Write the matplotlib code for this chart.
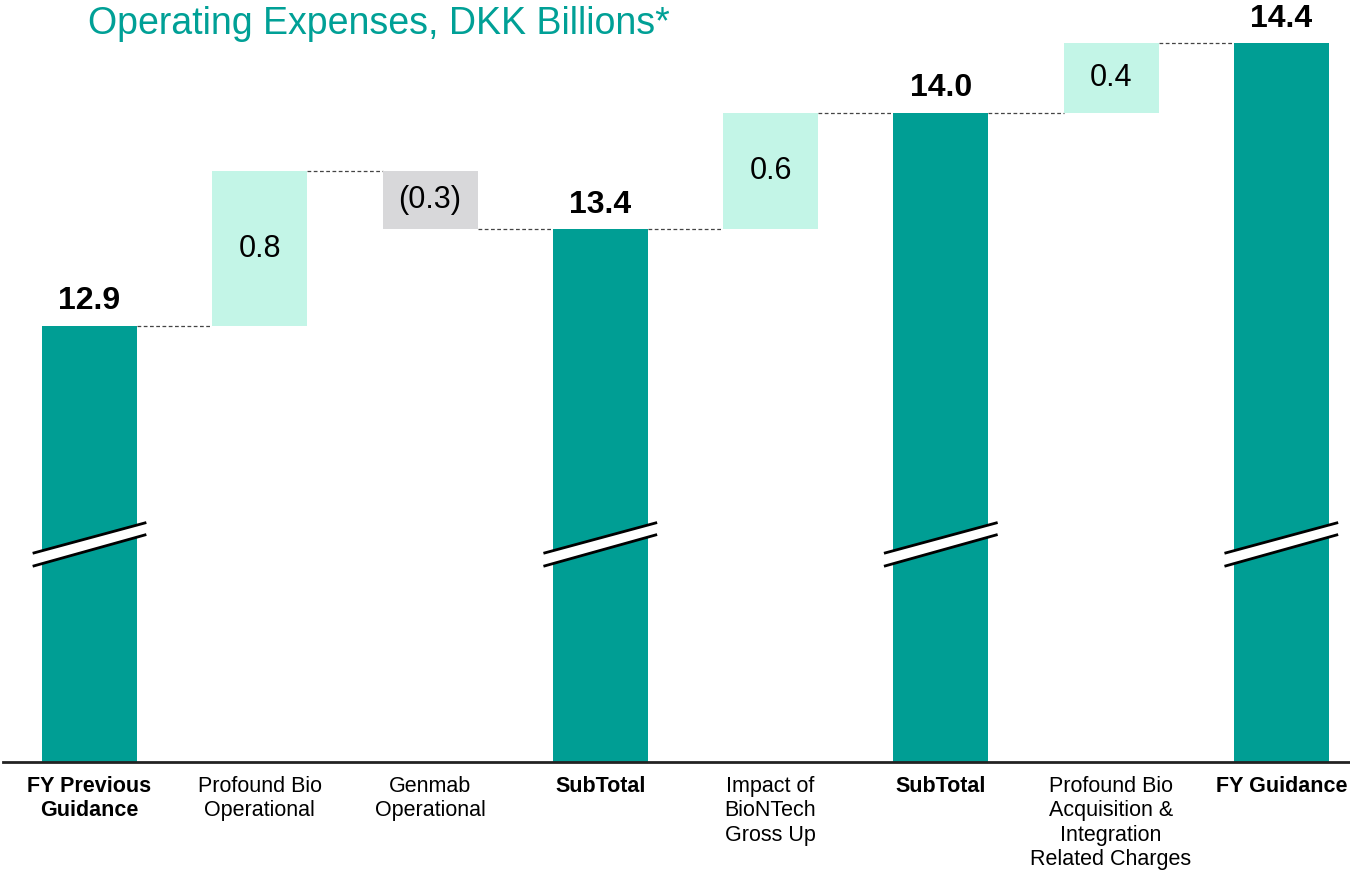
#!/usr/bin/env python3
"""Operating expenses waterfall (DKK billions)"""

import matplotlib
matplotlib.use("Agg")
import matplotlib.pyplot as plt
from matplotlib.patches import Polygon

plt.rcParams['font.family'] = ['Liberation Sans', 'DejaVu Sans']

# data
categories = [
    "FY Previous\nGuidance",
    "Profound Bio\nOperational",
    "Genmab\nOperational",
    "SubTotal",
    "Impact of\nBioNTech\nGross Up",
    "SubTotal",
    "Profound Bio\nAcquisition &\nIntegration\nRelated Charges",
    "FY Guidance",
]
values = [12.9, 0.8, -0.3, 13.4, 0.6, 14.0, 0.36, 14.36]
is_total = [True, False, False, True, False, True, False, True]

TEAL = '#009E94'
MINT = '#C3F5E7'
GREY = '#D8D8DA'

Y_MIN, Y_MAX = 10.648, 14.584
BAR_W = 0.558

fig = plt.figure(figsize=(13.5, 8.72), dpi=100)
ax = fig.add_axes([3 / 1350, 110 / 872, 1347 / 1350, 762 / 872])

running = 0
tops = []
for i, (v, tot) in enumerate(zip(values, is_total)):
    if tot:
        ax.bar(i, v - Y_MIN, bottom=Y_MIN, width=BAR_W, color=TEAL, zorder=2)
        ax.text(i, v + 0.127, f"{v:.1f}", ha='center', va='center',
                fontsize=23, fontweight='bold')
        running = v
    else:
        bottom = running if v > 0 else running + v
        color = MINT if v > 0 else GREY
        ax.bar(i, abs(v), bottom=bottom, width=BAR_W, color=color, zorder=2)
        label = f"{v:.1f}" if v > 0 else f"({abs(v):.1f})"
        ax.text(i, bottom + abs(v) / 2, label, ha='center', va='center',
                fontsize=22)
        running = running + v
    tops.append(running)

# dashed connectors between bars
for i in range(len(values) - 1):
    ax.plot([i + BAR_W / 2, i + 1 - BAR_W / 2], [tops[i], tops[i]],
            color='#444444', lw=0.9, ls=(0, (3, 2)), zorder=1)

# axis break marks on total bars
for i, tot in enumerate(is_total):
    if not tot:
        continue
    x0, x1 = i - 0.326, i + 0.326
    up_l, up_r = 11.728, 11.883
    lo_l, lo_r = 11.661, 11.821
    ax.add_patch(Polygon([(x0, up_l), (x1, up_r), (x1, lo_r), (x0, lo_l)],
                         closed=True, facecolor='white', edgecolor='none',
                         zorder=3))
    ax.plot([x0, x1], [up_l, up_r], color='black', lw=2, zorder=4)
    ax.plot([x0, x1], [lo_l, lo_r], color='black', lw=2, zorder=4)

ax.set_xlim((3 - 89.5) / 170.26, (1350 - 89.5) / 170.26)
ax.set_ylim(Y_MIN, Y_MAX)

for s in ['top', 'right', 'left']:
    ax.spines[s].set_visible(False)
ax.spines['bottom'].set_linewidth(2)
ax.spines['bottom'].set_color('#222222')
ax.set_yticks([])
ax.set_xticks(range(len(categories)))
ax.set_xticklabels(categories, fontsize=15.5, va='top', linespacing=1.22)
for lbl, tot in zip(ax.get_xticklabels(), is_total):
    if tot:
        lbl.set_fontweight('bold')
ax.tick_params(axis='x', length=0, pad=10)

fig.text(88 / 1350, 1 - 24 / 872, "Operating Expenses, DKK Billions*",
         color='#00A096', fontsize=27, va='center', ha='left')

plt.savefig('out.png', dpi=100)
plt.close()
